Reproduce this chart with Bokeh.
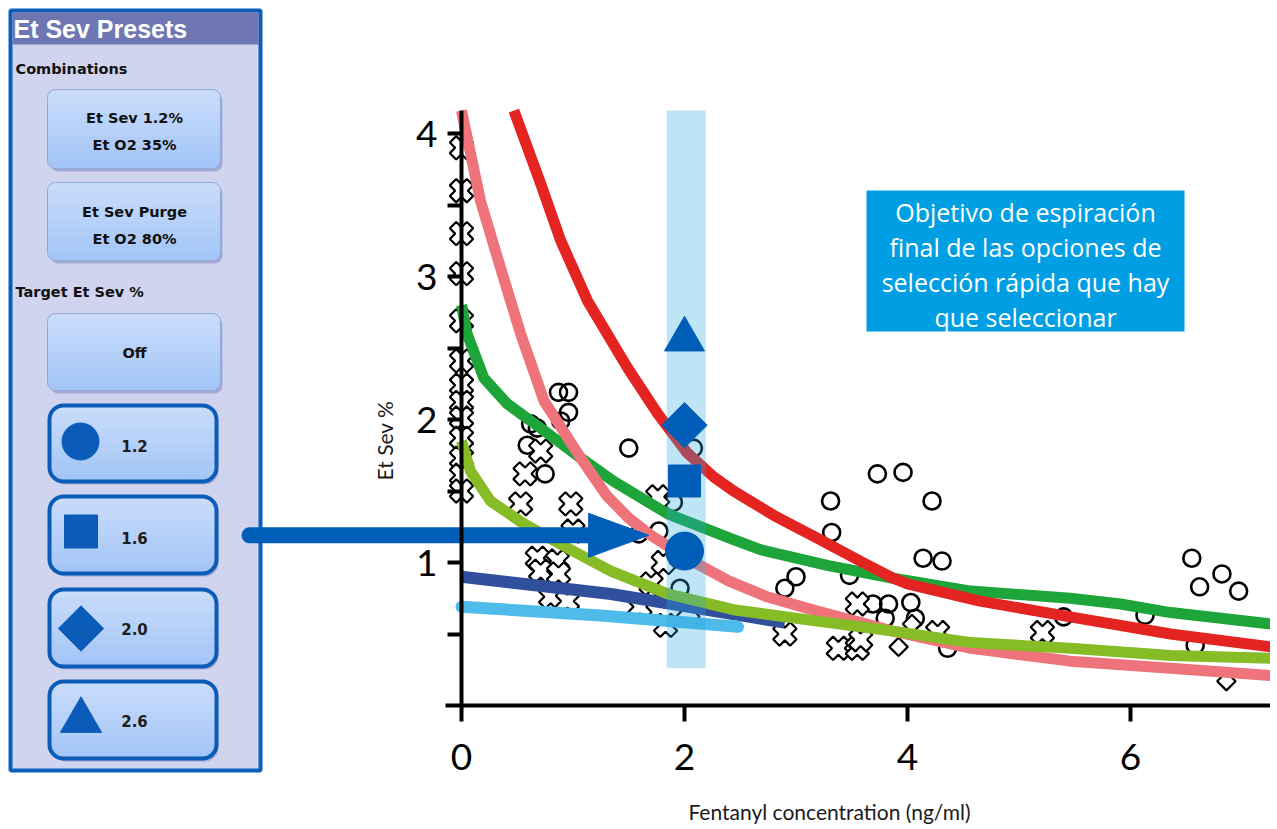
import math
from bokeh.plotting import figure
from bokeh.models import Range1d, FixedTicker, BoxAnnotation, Label
from bokeh.embed import file_html
from bokeh.resources import INLINE

# ---------------- data ----------------
x_ticks = [0, 2, 4, 6]
y_major_ticks = [1, 2, 3, 4]
y_minor_ticks = [0.5, 1.5, 2.5, 3.5]

# open circles
circ_x = [0.87, 0.96, 0.96, 0.89, 0.62, 0.68, 0.59, 0.75, 1.50, 2.08, 1.90, 1.77,
          1.59, 1.96, 2.04, 3.00, 2.90, 3.73, 3.96, 3.31, 4.22, 3.32, 4.14, 4.31,
          3.48, 3.69, 3.83, 4.03, 3.80, 4.07, 4.36, 6.55, 6.82, 6.62, 6.97, 5.40,
          6.13, 6.58]
circ_y = [2.19, 2.19, 2.05, 1.99, 1.97, 1.94, 1.82, 1.62, 1.80, 1.80, 1.42, 1.22,
          1.20, 0.82, 0.65, 0.90, 0.82, 1.62, 1.63, 1.43, 1.43, 1.21, 1.03, 1.01,
          0.91, 0.71, 0.71, 0.72, 0.61, 0.61, 0.40, 1.03, 0.92, 0.83, 0.80, 0.62,
          0.63, 0.42]

# open crosses
cross_x = [0.0, 0.0, 0.0, 0.0, 0.0, 0.0, 0.0, 0.0, 0.0, 0.0, 0.0, 0.0, 0.0,
           0.71, 0.57, 0.53, 0.98, 1.00, 0.68, 0.86, 0.71, 0.87, 0.80, 0.95,
           1.76, 1.81, 1.60, 1.70, 1.83, 2.03, 2.90, 3.55, 4.27, 3.38, 3.55,
           3.58, 5.21]
cross_y = [3.90, 3.60, 3.30, 3.02, 2.69, 2.41, 2.24, 2.12, 2.01, 1.87, 1.73, 1.61, 1.50,
           1.78, 1.62, 1.41, 1.41, 1.22, 1.03, 1.01, 0.94, 0.92, 0.76, 0.73,
           1.46, 1.00, 0.69, 0.85, 0.56, 0.66, 0.50, 0.71, 0.51, 0.40, 0.40,
           0.46, 0.51]

# open diamonds
diam_x = [4.04, 3.92, 6.86]
diam_y = [0.57, 0.41, 0.17]

# fitted curves
red_x = [0.47, 0.71, 0.89, 1.13, 1.49, 1.76, 2.02, 2.26, 2.44, 2.80, 3.19, 3.60, 3.87, 4.00, 4.65, 5.46, 6.36, 7.26]
red_y = [4.16, 3.65, 3.25, 2.83, 2.36, 2.04, 1.77, 1.60, 1.50, 1.33, 1.17, 1.00, 0.89, 0.85, 0.73, 0.62, 0.50, 0.41]

pink_x = [0.0, 0.17, 0.35, 0.53, 0.74, 1.07, 1.30, 1.50, 1.70, 2.02, 2.40, 2.74, 3.19, 3.87, 4.57, 5.46, 6.36, 7.26]
pink_y = [4.16, 3.53, 3.06, 2.60, 2.13, 1.73, 1.47, 1.31, 1.19, 1.03, 0.87, 0.76, 0.66, 0.52, 0.40, 0.31, 0.26, 0.21]

green_x = [0.0, 0.05, 0.20, 0.41, 0.71, 1.07, 1.36, 1.85, 2.44, 2.68, 3.28, 3.87, 4.57, 5.46, 5.91, 6.36, 7.26]
green_y = [2.80, 2.60, 2.29, 2.11, 1.94, 1.73, 1.57, 1.34, 1.16, 1.09, 0.98, 0.89, 0.80, 0.75, 0.71, 0.65, 0.57]

lime_x = [0.0, 0.08, 0.26, 0.56, 1.00, 1.34, 1.85, 2.44, 3.19, 3.87, 4.57, 5.46, 6.36, 7.26]
lime_y = [1.85, 1.64, 1.43, 1.27, 1.08, 0.94, 0.78, 0.67, 0.59, 0.52, 0.44, 0.40, 0.35, 0.33]

navy_x = [0.0, 1.34, 2.90]
navy_y = [0.90, 0.78, 0.58]

sky_x = [0.0, 1.25, 2.48]
sky_y = [0.69, 0.63, 0.55]

# highlighted fentanyl band and preset targets
band_left = [1.84]
band_right = [2.19]
band_bottom = [0.26]
band_top = [4.16]

preset_labels = ["1.2", "1.6", "2.0", "2.6"]
preset_x = [2.0, 2.0, 2.0, 2.0]
preset_y = [1.08, 1.57, 1.96, 2.56]

arrow_y = 1.19
arrow_head_x = 1.14
arrow_tip_x = 1.68

x_title = "Fentanyl concentration (ng/ml)"
y_title = "Et Sev %"

# ---------------- geometry (page pixels <-> data) ----------------
W, H = 1270, 828
X0, Y0 = 461.0, 705.0          # page pixel of (0, 0)
PX_PER_X, PX_PER_Y = 111.5, 143.0


def X(px):
    return (px - X0) / PX_PER_X


def Y(py):
    return (Y0 - py) / PX_PER_Y


y_top = Y(110)
x_right = X(W)

p = figure(width=W, height=H,
           x_range=Range1d(X(0), X(W)), y_range=Range1d(Y(H), Y(0)),
           output_backend="svg", toolbar_location=None, min_border=0)
p.outline_line_color = None
p.background_fill_color = "white"
p.border_fill_color = "white"
p.xgrid.visible = False
p.ygrid.visible = False

xa = p.xaxis[0]
xa.fixed_location = 0
xa.ticker = FixedTicker(ticks=x_ticks)
xa.bounds = (-0.14, x_right)
xa.axis_line_width = 4
xa.axis_line_color = "black"
xa.major_tick_line_width = 4
xa.major_tick_line_color = "black"
xa.major_tick_out = 16
xa.major_tick_in = 0
xa.minor_tick_line_color = None
xa.major_label_text_font = "Lato"
xa.major_label_text_font_size = "37px"
xa.major_label_text_color = "black"
xa.major_label_standoff = 22

ya = p.yaxis[0]
ya.fixed_location = 0
ya.ticker = FixedTicker(ticks=y_major_ticks, minor_ticks=y_minor_ticks)
ya.bounds = (0, y_top)
ya.axis_line_width = 4
ya.axis_line_color = "black"
ya.major_tick_line_width = 4
ya.major_tick_line_color = "black"
ya.major_tick_out = 14
ya.major_tick_in = 0
ya.minor_tick_line_width = 4
ya.minor_tick_line_color = "black"
ya.minor_tick_out = 14
ya.minor_tick_in = 0
ya.major_label_text_font = "Lato"
ya.major_label_text_font_size = "37px"
ya.major_label_text_color = "black"
ya.major_label_standoff = 10

p.add_layout(Label(x=X(829), y=Y(811), text=x_title,
                   text_align="center", text_baseline="middle",
                   text_font="Lato", text_font_size="21px", text_color="#1a1a1a"))
p.add_layout(Label(x=X(384), y=Y(440), text=y_title, angle=math.pi / 2,
                   text_align="center", text_baseline="middle",
                   text_font="Lato", text_font_size="21px", text_color="#1a1a1a"))

# scatter
p.scatter(circ_x, circ_y, marker="circle", size=17, fill_color=None,
          line_color="black", line_width=2.6)
p.scatter(cross_x, cross_y, marker="plus", size=24, angle=math.pi / 4,
          fill_color="white", line_color="black", line_width=2.2)
p.scatter(diam_x, diam_y, marker="square", size=13, angle=math.pi / 4,
          fill_color="white", line_color="black", line_width=2.2)

# curves
p.line(navy_x, navy_y, line_color="#30509E", line_width=12)
p.line(sky_x, sky_y, line_color="#4EBBEB", line_width=12, line_cap="round")
p.line(green_x, green_y, line_color="#1DA53A", line_width=11, line_join="round")
p.line(red_x, red_y, line_color="#E42421", line_width=11, line_join="round")
p.line(pink_x, pink_y, line_color="#EF737A", line_width=11, line_join="round")
p.line(lime_x, lime_y, line_color="#86BC25", line_width=11, line_join="round")

# band
p.quad(left=band_left, right=band_right, bottom=band_bottom, top=band_top,
       fill_color="#29A9E1", fill_alpha=0.3, line_color=None)

# preset markers
blue = "#005EB8"
p.scatter(preset_x[0:1], preset_y[0:1], marker="circle", size=38, color=blue)
p.scatter(preset_x[1:2], preset_y[1:2], marker="square", size=32, color=blue)
p.scatter(preset_x[2:3], preset_y[2:3], marker="square", size=32, angle=math.pi / 4, color=blue)
p.scatter(preset_x[3:4], preset_y[3:4], marker="triangle", size=40, color=blue)

# text box
p.add_layout(BoxAnnotation(left=X(866), right=X(1184), top=Y(190), bottom=Y(331),
                           fill_color="#009FE3", fill_alpha=1.0, line_color=None))
box_lines = ["Objetivo de espiración", "final de las opciones de",
             "selección rápida que hay", "que seleccionar"]
box_line_py = [211, 246, 281, 316]
for t, py in zip(box_lines, box_line_py):
    p.add_layout(Label(x=X(1025), y=Y(py), text=t,
                       text_align="center", text_baseline="middle",
                       text_font="Open Sans", text_font_size="25px", text_color="white"))

# ---------------- left UI panel ----------------


def box(l, t, r, b, fill, line=None, lw=1, radius=0):
    p.add_layout(BoxAnnotation(left=X(l), right=X(r), top=Y(t), bottom=Y(b), fill_color=fill,
                               fill_alpha=1.0, line_color=line, line_width=lw,
                               line_alpha=1.0, border_radius=radius, level="underlay"))


def txt(px, py, s, size="14.5px", color="#111111", align="center", font="DejaVu Sans"):
    p.add_layout(Label(x=X(px), y=Y(py), text=s, text_align=align, text_baseline="middle",
                       text_font=font, text_font_style="bold",
                       text_font_size=size, text_color=color))


GRAD_TOP = (200, 220, 250)
GRAD_BOT = (164, 197, 247)


def button(l, t, r, b, line, lw, radius):
    # soft shadow, stepped vertical gradient body, outline
    box(l + 3, t + 3, r + 2, b + 3, "#A4AAD4", radius=radius)
    box(l, t, r, b, "#%02X%02X%02X" % GRAD_BOT, radius=radius)
    steps = 9
    for k in range(steps):
        f = 1.0 - (k + 1) / (steps + 1)          # fraction of height covered
        mix = (k + 1) / steps
        c = tuple(round(GRAD_BOT[i] + (GRAD_TOP[i] - GRAD_BOT[i]) * mix) for i in range(3))
        box(l, t, r, t + (b - t) * f, "#%02X%02X%02X" % c, radius=(radius, radius, 0, 0))
    box(l, t, r, b, None, line, lw, radius=radius)


box(10, 10, 260, 770, "#D1D4EF", "#0A5FBA", 4)
box(12, 12, 258, 44, "#6E77B2")
txt(13, 28, "Et Sev Presets", size="25px", color="white", align="left", font="Liberation Sans")
txt(15, 68, "Combinations", align="left")

for top, bot, lines in [(89, 168, [("Et Sev 1.2%", 117), ("Et O2 35%", 144)]),
                        (182, 260, [("Et Sev Purge", 211), ("Et O2 80%", 238)]),
                        (313, 390, [("Off", 352)])]:
    button(47, top, 220, bot, "#8FA9DB", 1, 8)
    for s, yy in lines:
        txt(134, yy, s)

txt(15, 291, "Target Et Sev %", align="left")

sel_tops = [405, 496, 589, 681]
sel_bots = [481, 573, 666, 758]
for top, bot in zip(sel_tops, sel_bots):
    button(49, top, 216, bot, "#0A5CB8", 4, 14)

icon = "#0A5CB8"
p.scatter([X(80)], [Y(441)], marker="circle", size=37, color=icon)
p.scatter([X(80.5)], [Y(531)], marker="square", size=33, color=icon)
p.scatter([X(80.5)], [Y(628)], marker="square", size=32, angle=math.pi / 4, color=icon)
p.scatter([X(80.5)], [Y(720)], marker="triangle", size=41, color=icon)
for s, yy in zip(preset_labels, [445, 537, 628, 720]):
    txt(134, yy, s, size="15px", color="#1E1E1E")

# arrow from the panel into the chart
p.line([X(249), arrow_head_x], [arrow_y, arrow_y], line_color=blue, line_width=16,
       line_cap="round")
hh = 22 / PX_PER_Y
p.patch([arrow_head_x, arrow_head_x, arrow_tip_x], [arrow_y + hh, arrow_y - hh, arrow_y],
        fill_color=blue, line_color=blue, line_width=1)

open("out.html", "w").write(file_html(p, INLINE))
